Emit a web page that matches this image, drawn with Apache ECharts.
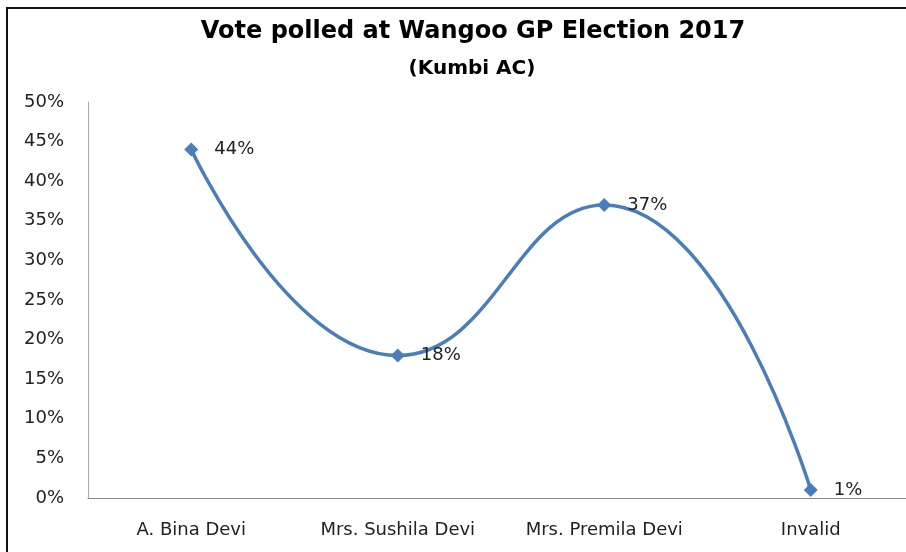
<!DOCTYPE html>
<html>
<head>
<meta charset="utf-8">
<script src="https://cdn.jsdelivr.net/npm/echarts@6/dist/echarts.min.js"></script>
<style>
    html, body { margin: 0; padding: 0; background: #fff; overflow: hidden; }
    /* 图表比窗口略宽,右边缘被裁掉,和原图一致 */
    #chart { width: 914px; height: 552px; }
</style>
</head>
<body>
<div id="chart"></div>
<script>
// 数据
const candidates = ['A. Bina Devi', 'Mrs. Sushila Devi', 'Mrs. Premila Devi', 'Invalid']
const voteShare = [44, 18, 37, 1]
const yTicks = [0, 5, 10, 15, 20, 25, 30, 35, 40, 45, 50]

const font = '"DejaVu Sans", sans-serif'

const mychart = echarts.init(document.getElementById('chart'))

let option = {
    animation: false,
    title: [
        {
            text: 'Vote polled at Wangoo GP Election 2017',
            left: 468,
            top: 15,
            textAlign: 'center',
            textStyle: { fontFamily: font, fontSize: 24, fontWeight: 'bold', color: '#000' },
        },
        {
            text: '(Kumbi AC)',
            left: 467,
            top: 54,
            textAlign: 'center',
            textStyle: { fontFamily: font, fontSize: 20, fontWeight: 'bold', color: '#000' },
        },
    ],
    // 外框:只有左边和上边露在画面里
    graphic: [
        {
            type: 'polyline',
            shape: { points: [[7, 560], [7, 8], [1000, 8]] },
            style: { fill: 'none', stroke: '#111', lineWidth: 2 },
        },
    ],
    grid: {
        left: 88,
        right: 0,
        top: 102,
        bottom: 54,
    },
    xAxis: {
        type: 'category',
        data: candidates,
        boundaryGap: true,
        axisLine: { lineStyle: { color: '#888', width: 1 } },
        axisTick: { show: false },
        axisLabel: { fontFamily: font, fontSize: 18, color: '#222', margin: 23, interval: 0 },
    },
    yAxis: {
        type: 'value',
        min: yTicks[0],
        max: yTicks[yTicks.length - 1],
        interval: yTicks[1] - yTicks[0],
        axisLine: { show: true, lineStyle: { color: '#aaa', width: 1 } },
        axisTick: { show: false },
        splitLine: { show: false },
        axisLabel: {
            fontFamily: font,
            fontSize: 18,
            color: '#222',
            margin: 24,
            formatter: '{value}%',
        },
    },
    series: [
        {
            type: 'line',
            data: voteShare,
            smooth: 0.5,
            symbol: 'diamond',
            symbolSize: 14,
            lineStyle: { color: '#4a7ebb', width: 3.5 },
            itemStyle: { color: '#4a7ebb' },
            label: {
                show: true,
                position: 'right',
                distance: 16,
                fontFamily: font,
                fontSize: 18,
                color: '#222',
                formatter: '{c}%',
            },
        },
    ],
}

mychart.setOption(option)
</script>
</body>
</html>
